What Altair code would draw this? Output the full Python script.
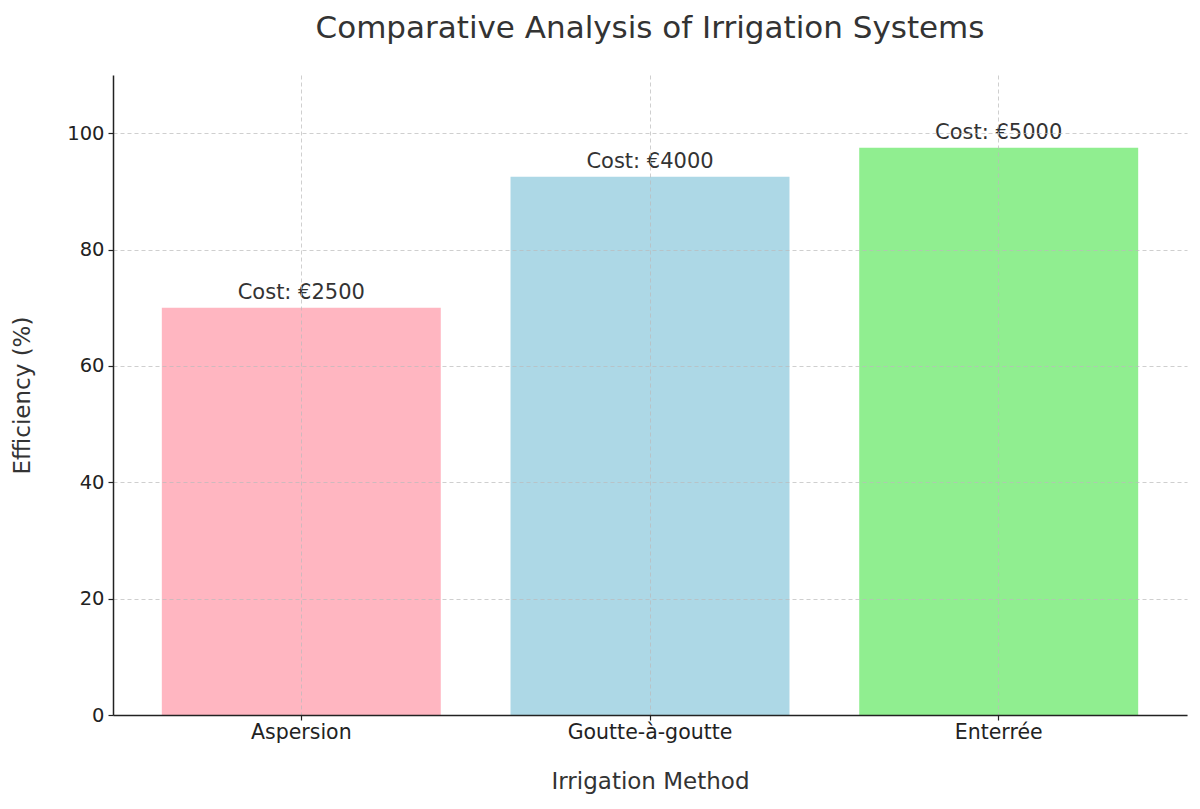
import altair as alt
import pandas as pd

methods = ["Aspersion", "Goutte-à-goutte", "Enterrée"]
efficiency = [70, 92.5, 97.5]
costs = [2500, 4000, 5000]
colors = ["#FFB6C1", "#ADD8E6", "#90EE90"]

df = pd.DataFrame({
    "method": methods,
    "efficiency": efficiency,
    "label": [f"Cost: €{c}" for c in costs],
})

FONT = "DejaVu Sans"

x = alt.X("method:N", sort=methods, title="Irrigation Method",
          scale=alt.Scale(paddingInner=0.2, paddingOuter=0.14),
          axis=alt.Axis(labelAngle=0, labelFontSize=20.5, labelColor="#222222",
                        titleFontSize=23, titleColor="#333333", titleFontWeight="normal",
                        titlePadding=28, labelPadding=2, tickSize=5,
                        domainColor="#222222", domainWidth=1.5, tickColor="#222222",
                        tickWidth=1.2, grid=True, gridDash=[4, 3], gridColor="#bbbbbb",
                        gridOpacity=0.7, zindex=1, labelFont=FONT, titleFont=FONT))
y = alt.Y("efficiency:Q", title="Efficiency (%)",
          scale=alt.Scale(domain=[0, 110], nice=False),
          axis=alt.Axis(values=[0, 20, 40, 60, 80, 100], labelFontSize=19.5,
                        labelColor="#222222", titleFontSize=23, titleColor="#333333",
                        titleFontWeight="normal", titlePadding=32, labelPadding=4,
                        tickSize=5, domainColor="#222222", domainWidth=1.5,
                        tickColor="#222222", tickWidth=1.2, grid=True, gridDash=[4, 3],
                        gridColor="#bbbbbb", gridOpacity=0.7, zindex=1,
                        labelFont=FONT, titleFont=FONT))

bars = alt.Chart(df).mark_bar().encode(
    x=x, y=y,
    color=alt.Color("method:N", scale=alt.Scale(domain=methods, range=colors), legend=None),
)

text = alt.Chart(df).mark_text(baseline="bottom", dy=-5, fontSize=21, font=FONT,
                               color="#333333").encode(
    x=alt.X("method:N", sort=methods),
    y="efficiency:Q",
    text="label:N",
)

chart = (bars + text).properties(
    width=1074, height=640,
    title=alt.TitleParams("Comparative Analysis of Irrigation Systems", fontSize=31,
                          font=FONT, fontWeight="normal", color="#333333",
                          anchor="middle", offset=30),
    autosize=alt.AutoSizeParams(type="none"),
    padding={"left": 105, "top": 67, "right": 5, "bottom": 80},
).configure_view(stroke=None)

chart.save("out.html", embed_options={"renderer": "svg", "actions": False})
